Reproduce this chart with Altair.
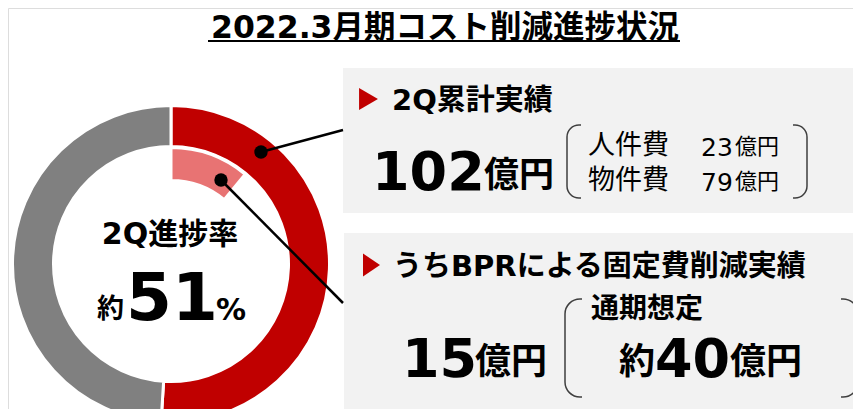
import altair as alt
import pandas as pd

# ---- data ----
title_text = "2022.3月期コスト削減進捗状況"
ring_labels = ["2Q累計実績", "残り"]
ring_values = [51, 49]          # % of full-year plan achieved / remaining
bpr_share = [11]                # inner pink arc, % of circle
progress_pct = 51
total_2q = 102
breakdown_labels = ["人件費", "物件費"]
breakdown_values = [23, 79]
bpr_actual = 15
fy_bpr_target = 40
header1 = "2Q累計実績"
header2 = "うちBPRによる固定費削減実績"
center_label = "2Q進捗率"
unit = "億円"

FONT = "DejaVu Sans, Noto Sans CJK JP"
RED = "#c00000"
GREY = "#808080"
PINK = "#e87373"
BOX = "#f2f2f2"
BRK = "#3f3f3f"

one = pd.DataFrame({"k": [0]})


def txt(s, x, y, size, weight="bold", align="left", color="#000000"):
    return alt.Chart(one).mark_text(
        font=FONT, fontSize=size, fontWeight=weight, align=align,
        baseline="alphabetic", color=color
    ).encode(text=alt.value(s), x=alt.value(x), y=alt.value(y))


def rect(x, x2, y, y2, fill, stroke=None, radius=0, sw=1.5):
    kw = dict(fill=fill, cornerRadius=radius)
    if stroke:
        kw.update(stroke=stroke, strokeWidth=sw)
    return alt.Chart(one).mark_rect(**kw).encode(
        x=alt.value(x), x2=alt.value(x2), y=alt.value(y), y2=alt.value(y2))


def rule(x, y, x2, y2, sw=2.5):
    return alt.Chart(one).mark_rule(color="#000000", strokeWidth=sw).encode(
        x=alt.value(x), y=alt.value(y), x2=alt.value(x2), y2=alt.value(y2))


def tri(x, y, size, path):
    return alt.Chart(one).mark_point(shape=path, filled=True, color=RED, opacity=1,
                                     size=size, strokeWidth=0).encode(
        x=alt.value(x), y=alt.value(y))


def dot(x, y):
    return alt.Chart(one).mark_circle(color="#000000", opacity=1, size=180).encode(
        x=alt.value(x), y=alt.value(y))


layers = []

# title
layers.append(txt(title_text, 437, 30, 31.5, align="center"))
layers.append(rule(200, 33, 672, 33, sw=2))

# boxes
layers.append(rect(335, 853, 60, 205, BOX))
layers.append(rect(336, 853, 225, 420, BOX))

# brackets
layers.append(rect(559, 799, 117, 190, BOX, stroke=BRK, radius=12))
layers.append(rect(573, 785, 113, 121, BOX))
layers.append(rect(573, 785, 186, 194, BOX))
layers.append(rect(557, 850, 291, 389, BOX, stroke=BRK, radius=15))
layers.append(rect(574, 833, 287, 295, BOX))
layers.append(rect(574, 833, 385, 393, BOX))

# box 1
layers.append(tri(360.5, 91, 484, "M-0.86,-1L0.86,0L-0.86,1Z"))
layers.append(txt(header1, 384, 102, 29))
layers.append(txt(str(total_2q), 364, 182, 54))
layers.append(txt(unit, 476, 179, 35))
for i, (lab, val) in enumerate(zip(breakdown_labels, breakdown_values)):
    yb = 146 + 35 * i
    layers.append(txt(lab, 580, yb, 27, weight="normal"))
    layers.append(txt(str(val), 693, yb + 2, 25, weight="normal"))
    layers.append(txt(unit, 727, yb, 22, weight="normal"))

# box 2
layers.append(tri(363.5, 257, 529, "M-0.74,-1L0.74,0L-0.74,1Z"))
layers.append(txt(header2, 385, 268, 29))
layers.append(txt(str(bpr_actual), 394, 369, 54))
layers.append(txt(unit, 467, 366, 36))
layers.append(txt("通期想定", 583, 310, 28))
layers.append(txt("約", 611, 366, 36))
layers.append(txt(str(fy_bpr_target), 647, 369, 54))
layers.append(txt(unit, 722, 366, 36))

# donut
ring_df = pd.DataFrame({"label": ring_labels, "value": ring_values, "order": [0, 1]})
ring = alt.Chart(ring_df).mark_arc(
    outerRadius=158.5, innerRadius=117.5, stroke="white", strokeWidth=3
).encode(
    theta=alt.Theta("value:Q", stack=True),
    order=alt.Order("order:Q"),
    color=alt.Color("label:N", scale=alt.Scale(domain=ring_labels, range=[RED, GREY]), legend=None),
    x=alt.value(163), y=alt.value(256),
)
layers.append(ring)

bpr_df = pd.DataFrame({"label": ["BPR"], "v": bpr_share})
bpr = alt.Chart(bpr_df).mark_arc(
    outerRadius=116.5, innerRadius=83.5, stroke="white", strokeWidth=3, color=PINK
).encode(
    theta=alt.Theta("v:Q", stack=True, scale=alt.Scale(domain=[0, 100])),
    x=alt.value(163), y=alt.value(256),
)
layers.append(bpr)

# center text
layers.append(txt(center_label, 162, 236, 30, align="center"))
layers.append(txt("約", 89, 310, 27))
layers.append(txt(str(progress_pct), 118, 312, 66))
layers.append(txt("%", 208, 312, 30))

# leader lines and dots
layers.append(rule(253, 144, 335, 122))
layers.append(rule(213, 172, 335, 295))
layers.append(dot(253, 144))
layers.append(dot(213, 172))

chart = alt.layer(*layers).resolve_scale(
    theta="independent", color="independent"
).properties(
    width=845, height=401, padding=0,
    autosize=alt.AutoSizeParams(type="none"),
).configure_view(strokeWidth=0, stroke="transparent").configure(background="white")

chart.save("out.html", embed_options={"renderer": "svg", "actions": False})
